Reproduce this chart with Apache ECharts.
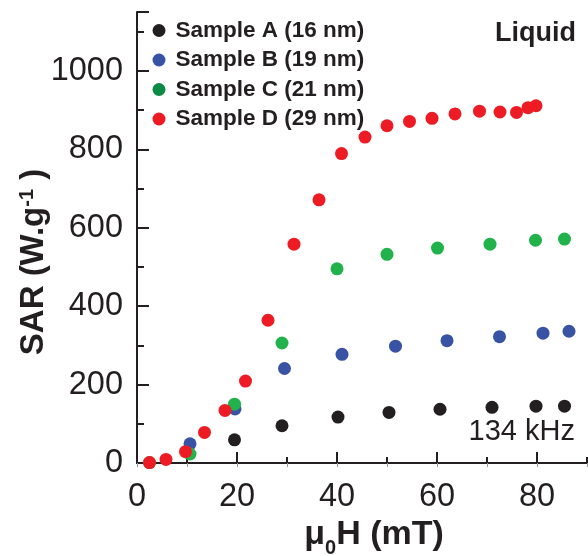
<!DOCTYPE html>
<html>
<head>
<meta charset="utf-8">
<script src="https://cdn.jsdelivr.net/npm/echarts@6/dist/echarts.min.js"></script>
<style>
  html, body { margin: 0; padding: 0; background: #fff; }
  #chart { width: 588px; height: 556px; }
</style>
</head>
<body>
<div id="chart"></div>
<script>
// Specific absorption rate vs. applied field, four particle sizes (liquid, 134 kHz)
const seriesNames = ['Sample A (16 nm)', 'Sample B (19 nm)', 'Sample C (21 nm)', 'Sample D (29 nm)'];

const fieldA = [19.5, 29, 40.2, 50.4, 60.6, 71, 79.8, 85.5];
const sarA   = [59, 95, 117, 129, 137, 142, 145, 145];

const fieldB = [10.6, 19.6, 29.5, 41, 51.7, 62, 72.5, 81.2, 86.4];
const sarB   = [49, 138, 241, 277, 298, 312, 322, 331, 336];

const fieldC = [2.5, 10.6, 19.5, 29, 40, 50, 60.1, 70.6, 79.7, 85.5];
const sarC   = [1, 23, 150, 306, 495, 532, 548, 558, 568, 571];

const fieldD = [2.5, 5.8, 9.7, 13.5, 17.6, 21.7, 26.2, 31.4, 36.4, 40.9, 45.6, 50, 54.5, 59, 63.6, 68.5, 72.6, 75.9, 78.2, 79.8];
const sarD   = [1, 9, 29, 78, 134, 209, 364, 558, 671, 789, 831, 860, 871, 879, 890, 897, 895, 894, 906, 911];

const xTicks = [0, 20, 40, 60, 80];
const yTicks = [0, 200, 400, 600, 800, 1000];

const dotColors    = ['#231f20', '#3953a4', '#21b24b', '#ed1c24'];
const legendColors = ['#231f20', '#3953a4', '#0b8a44', '#ed1c24'];

const pairs = (xs, ys) => xs.map((x, i) => [x, ys[i]]);
const fields = [fieldA, fieldB, fieldC, fieldD];
const sars = [sarA, sarB, sarC, sarD];

const FONT = '"Liberation Sans", Arial, Helvetica, sans-serif';
const INK = '#231f20';

const chart = echarts.init(document.getElementById('chart'), null, { renderer: 'canvas' });

chart.setOption({
  animation: false,
  backgroundColor: '#fff',
  // the field axis runs past the right edge of the canvas
  grid: { left: 137, top: 12, width: 500, height: 451, containLabel: false, outerBoundsMode: 'none' },
  legend: {
    orient: 'vertical',
    left: 152.5,
    top: 19,
    padding: 0,
    itemWidth: 23,
    itemHeight: 13,
    itemGap: 6.5,
    icon: 'circle',
    selectedMode: false,
    textStyle: { fontFamily: FONT, fontSize: 22.5, fontWeight: 'bold', color: INK },
    data: seriesNames.map((n, i) => ({ name: n, itemStyle: { color: legendColors[i] } }))
  },
  xAxis: [
    {
      type: 'value', position: 'bottom', min: 0, max: 100, interval: 20,
      axisLine: { lineStyle: { color: INK, width: 2 } },
      axisTick: { inside: true, length: 11, lineStyle: { color: INK, width: 2 } },
      minorTick: { show: true, splitNumber: 2, length: 6, lineStyle: { color: INK, width: 2 } },
      splitLine: { show: false },
      axisLabel: {
        margin: 18, fontFamily: FONT, fontSize: 32.5, color: INK,
        formatter: v => (xTicks.indexOf(v) >= 0 ? String(v) : '')
      }
    },
    {
      type: 'value', position: 'top', min: 0, max: 100, interval: 10,
      axisLine: { lineStyle: { color: INK, width: 2 } },
      axisTick: { inside: true, length: 4, lineStyle: { color: '#999', width: 1 } },
      axisLabel: { show: false },
      splitLine: { show: false }
    }
  ],
  yAxis: [
    {
      type: 'value', position: 'left', min: 0, max: 1150, interval: 200,
      axisLine: { show: true, lineStyle: { color: INK, width: 2 } },
      axisTick: { show: true, inside: true, length: 12, lineStyle: { color: INK, width: 2 } },
      splitLine: { show: false },
      axisLabel: {
        margin: 14, fontFamily: FONT, fontSize: 32.5, color: INK, padding: [5, 0, 0, 0],
        formatter: v => (yTicks.indexOf(v) >= 0 ? String(v) : '')
      }
    },
    {
      type: 'value', position: 'left', min: 0, max: 1150, interval: 100,
      axisLine: { show: false },
      axisTick: { show: true, inside: true, length: 7, lineStyle: { color: INK, width: 2 } },
      axisLabel: { show: false },
      splitLine: { show: false }
    }
  ],
  series: seriesNames.map((n, i) => ({
    name: n,
    type: 'scatter',
    xAxisIndex: 0,
    yAxisIndex: 0,
    symbol: 'circle',
    symbolSize: 13,
    itemStyle: { color: dotColors[i], opacity: 1 },
    emphasis: { disabled: true },
    data: pairs(fields[i], sars[i])
  })),
  graphic: [
    {
      type: 'text', x: 34, y: 262, rotation: Math.PI / 2,
      style: {
        text: '{m|SAR (W.g}{s|-1}{m| )}',
        align: 'center', verticalAlign: 'middle',
        rich: {
          m: { fontFamily: FONT, fontSize: 33, fontWeight: 'bold', fill: INK, lineHeight: 33, verticalAlign: 'bottom' },
          s: { fontFamily: FONT, fontSize: 20, fontWeight: 'bold', fill: INK, lineHeight: 33, verticalAlign: 'top' }
        }
      }
    },
    {
      type: 'text', x: 374, y: 534,
      style: {
        text: '{m|\u03bc}{s|0}{m|H (mT)}',
        align: 'center', verticalAlign: 'middle',
        rich: {
          m: { fontFamily: FONT, fontSize: 34, fontWeight: 'bold', fill: INK, lineHeight: 32, verticalAlign: 'top' },
          s: { fontFamily: FONT, fontSize: 20, fontWeight: 'bold', fill: INK, lineHeight: 32, verticalAlign: 'bottom', padding: [0, 0, -8, 0] }
        }
      }
    },
    {
      type: 'text', x: 576, y: 34,
      style: { text: 'Liquid', align: 'right', verticalAlign: 'middle', fontFamily: FONT, fontSize: 27, fontWeight: 'bold', fill: INK }
    },
    {
      type: 'text', x: 575, y: 432,
      style: { text: '134 kHz', align: 'right', verticalAlign: 'middle', fontFamily: FONT, fontSize: 29, fill: INK }
    }
  ]
});
</script>
</body>
</html>
